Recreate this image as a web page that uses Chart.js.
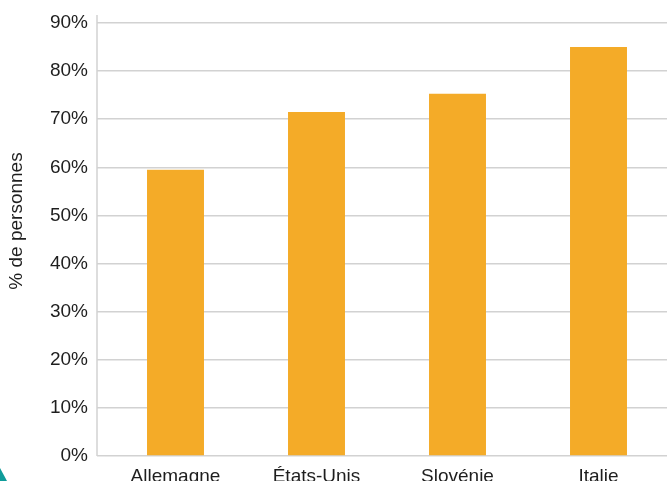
<!DOCTYPE html>
<html>
<head>
<meta charset="utf-8">
<script src="https://cdn.jsdelivr.net/npm/chart.js@4/dist/chart.umd.min.js"></script>
<style>
  html, body { margin: 0; padding: 0; background: #fff; overflow: hidden; }
  body { width: 667px; height: 481px; }
</style>
</head>
<body>
<canvas id="barChart" width="670" height="481"></canvas>
<script>
const pays = ["Allemagne", "États-Unis", "Slovénie", "Italie"];
const pourcentages = [59.5, 71.5, 75.3, 85];
const yTicks = [0, 10, 20, 30, 40, 50, 60, 70, 80, 90];
const yTitle = "% de personnes";

const textColor = "#1e1e1e";
const gridColor = "#d2d2d2";
const fontFamily = "'Liberation Sans', Arial, sans-serif";
const font = { family: fontFamily, size: 19 };

// titre de l'axe y, ligne verticale de l'axe + petit triangle du coin
const decor = {
  id: "decor",
  afterDraw(chart) {
    const ctx = chart.ctx;
    const a = chart.chartArea;
    ctx.save();
    ctx.strokeStyle = gridColor;
    ctx.lineWidth = 1.5;
    ctx.beginPath();
    ctx.moveTo(a.left - 8, 15);
    ctx.lineTo(a.left - 8, a.bottom);
    ctx.stroke();

    ctx.fillStyle = "#0f9c9a";
    ctx.beginPath();
    ctx.moveTo(0, 468);
    ctx.lineTo(7, 481);
    ctx.lineTo(0, 481);
    ctx.closePath();
    ctx.fill();

    ctx.translate(17, 221);
    ctx.rotate(-Math.PI / 2);
    ctx.fillStyle = textColor;
    ctx.font = "19px " + fontFamily;
    ctx.textAlign = "center";
    ctx.textBaseline = "middle";
    ctx.fillText(yTitle, 0, 0);
    ctx.restore();
  },
};

new Chart(document.getElementById("barChart"), {
  type: "bar",
  data: {
    labels: pays,
    datasets: [
      {
        data: pourcentages,
        backgroundColor: "#f4ab28",
        barPercentage: 1,
        categoryPercentage: 0.404,
      },
    ],
  },
  options: {
    responsive: false,
    animation: false,
    layout: { padding: { top: 23, right: 1, left: 0, bottom: 0 } },
    plugins: { legend: { display: false }, tooltip: { enabled: false } },
    scales: {
      x: {
        grid: { display: false },
        border: { display: false },
        ticks: { color: textColor, font: font, padding: 1, maxRotation: 0 },
        afterFit(scale) { scale.height = 25; },
      },
      y: {
        min: 0,
        max: 90,
        afterBuildTicks(scale) { scale.ticks = yTicks.map(v => ({ value: v })); },
        grid: { color: gridColor, lineWidth: 1.5, tickLength: 8, tickColor: gridColor },
        border: { display: false },
        ticks: { color: textColor, font: font, padding: 9, callback: v => v + "%" },
        afterFit(scale) { scale.width = 105; },
      },
    },
  },
  plugins: [decor],
});
</script>
</body>
</html>
